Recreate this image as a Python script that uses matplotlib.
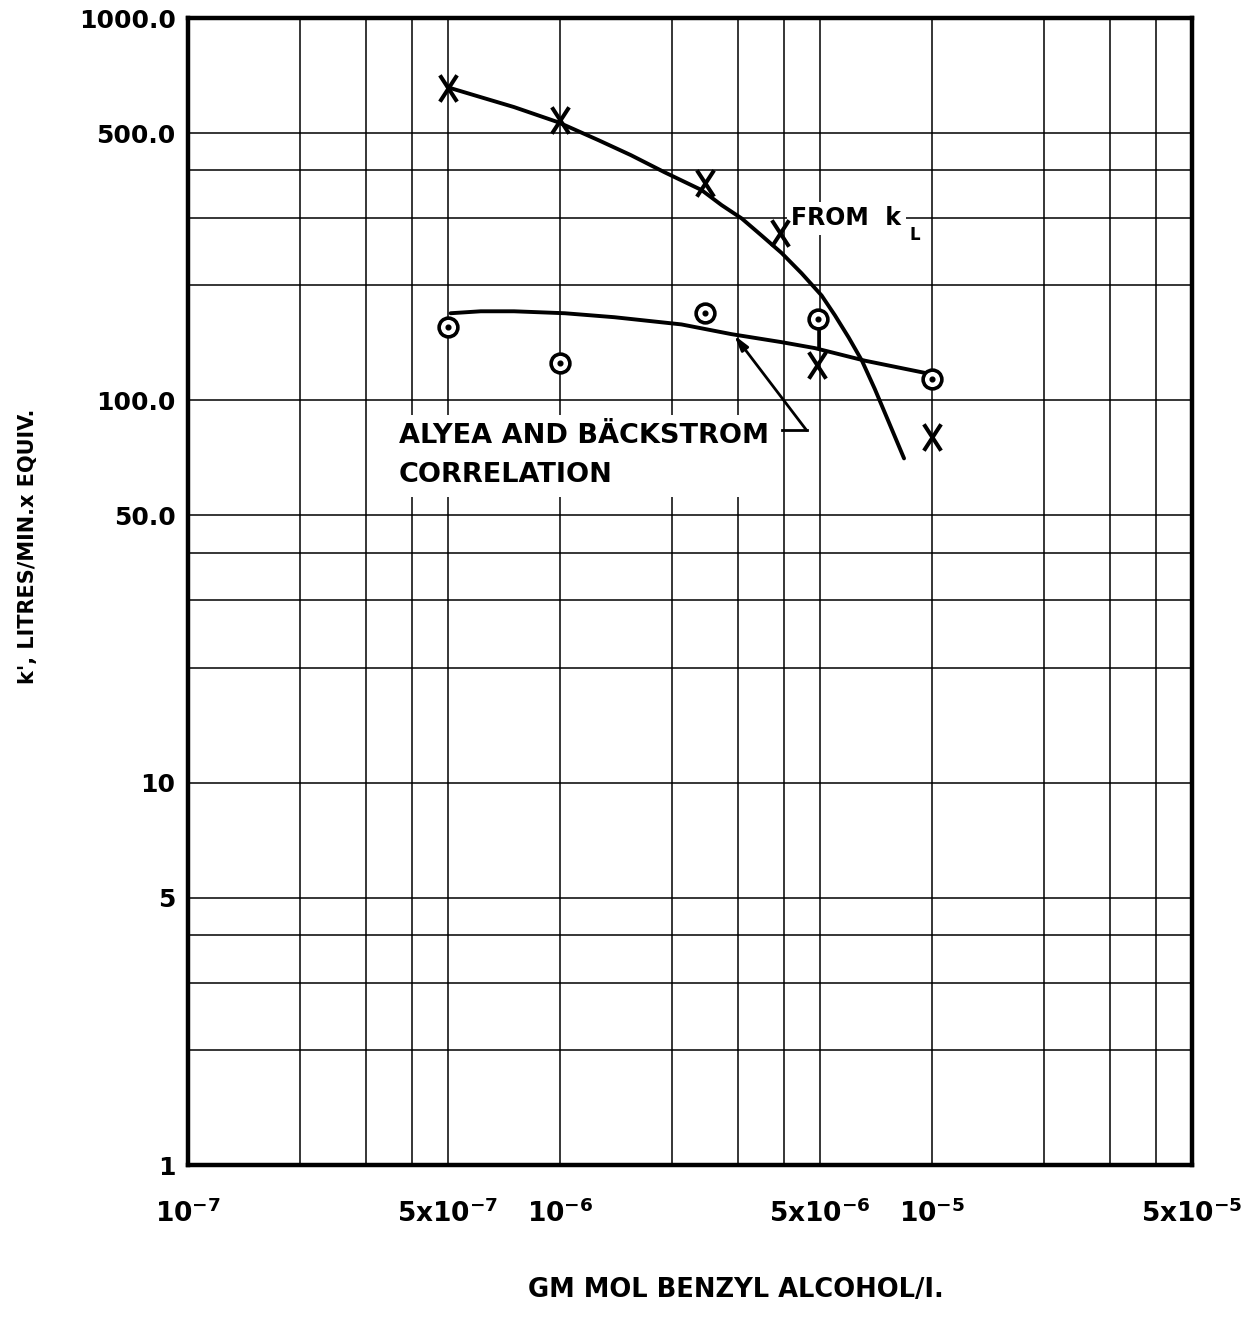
import numpy as np
import matplotlib
matplotlib.use("Agg")
from matplotlib import pyplot as plt
from matplotlib.path import Path

plt.rcParams['font.family'] = ['DejaVu Sans']
plt.rcParams['font.weight'] = 'bold'
plt.rcParams['mathtext.fontset'] = 'dejavusans'

# measured points, "x" symbols
x_cross = [5.0e-7, 1.0e-6, 2.45e-6, 3.9e-6, 4.9e-6, 1.0e-5]
k_cross = [655, 540, 370, 274, 124, 80]

# measured points, circled dots
x_circ = [5.0e-7, 1.0e-6, 2.45e-6, 4.95e-6, 1.0e-5]
k_circ = [156, 125, 169, 163, 114]

# curve drawn through the k_L points
x_kl = [4.99e-7, 6.12e-7, 7.52e-7, 9.88e-7, 1.27e-6, 1.55e-6, 1.91e-6,
        2.40e-6, 2.72e-6, 3.08e-6, 3.48e-6, 3.94e-6, 4.46e-6, 5.05e-6,
        5.48e-6, 5.97e-6, 6.48e-6, 7.02e-6, 7.66e-6, 8.41e-6]
k_kl = [659, 621, 585, 534, 479, 438, 395, 355, 324, 299, 270, 243, 215,
        188, 167, 146, 127, 107, 87.5, 70.5]

# Alyea and Backstrom correlation line
x_ab = [5.08e-7, 6.12e-7, 7.52e-7, 1.03e-6, 1.40e-6, 2.12e-6, 2.89e-6,
        3.94e-6, 4.84e-6, 6.60e-6, 9.57e-6]
k_ab = [169, 171, 171, 169, 165, 158, 149, 142, 137, 127, 118]

xticks = [1e-7, 5e-7, 1e-6, 5e-6, 1e-5, 5e-5]
xticklabels = [r'$\mathbf{10^{-7}}$', r'$\mathbf{5x10^{-7}}$', r'$\mathbf{10^{-6}}$',
               r'$\mathbf{5x10^{-6}}$', r'$\mathbf{10^{-5}}$', r'$\mathbf{5x10^{-5}}$']
yticks = [1, 5, 10, 50, 100, 500, 1000]
yticklabels = ['1', '5', '10', '50.0', '100.0', '500.0', '1000.0']

# grid positions: 1..5 of each decade
xgrid = [m * 10.0**e for e in (-7, -6, -5) for m in (1, 2, 3, 4, 5)]
ygrid = [m * 10.0**e for e in (0, 1, 2) for m in (1, 2, 3, 4, 5)] + [1000]

fig = plt.figure(figsize=(12.52, 13.17), dpi=100)
ax = fig.add_axes([0.1502, 0.1154, 0.8019, 0.8709])
ax.set_xscale('log')
ax.set_yscale('log')
ax.set_xlim(1e-7, 5e-5)
ax.set_ylim(1, 1000)

for g in xgrid:
    ax.axvline(g, color='black', lw=1.1, zorder=1)
for g in ygrid:
    ax.axhline(g, color='black', lw=1.1, zorder=1)

ax.set_xticks(xticks)
ax.set_xticklabels(xticklabels)
ax.set_yticks(yticks)
ax.set_yticklabels(yticklabels)
ax.minorticks_off()
ax.tick_params(axis='both', length=0)
ax.tick_params(axis='x', labelsize=19, pad=25)
ax.tick_params(axis='y', labelsize=18, pad=9)
for s in ax.spines.values():
    s.set_linewidth(3.2)
    s.set_zorder(5)

# tall "X" marker
xmark = Path([(-0.65, -1), (0.65, 1), (-0.65, 1), (0.65, -1)],
             [Path.MOVETO, Path.LINETO, Path.MOVETO, Path.LINETO])

ax.plot(x_kl, k_kl, color='black', lw=2.8, solid_capstyle='round',
        solid_joinstyle='round', zorder=3)
ax.plot(x_ab, k_ab, color='black', lw=2.8, solid_capstyle='round',
        solid_joinstyle='round', zorder=3)
# tie from the 5e-6 circle down to the correlation line
ax.plot([4.97e-6, 4.97e-6], [163, 137], color='black', lw=2.6, zorder=3)

ax.plot(x_cross, k_cross, linestyle='none', marker=xmark, ms=19,
        mew=2.9, color='black', zorder=4)
ax.plot(x_circ, k_circ, linestyle='none', marker='o', ms=13.5, mew=2.6,
        mfc='white', mec='black', zorder=4)
ax.plot(x_circ, k_circ, linestyle='none', marker='o', ms=3.4,
        color='black', zorder=4)

white = dict(facecolor='white', edgecolor='none', pad=3)
ax.text(4.19e-6, 287, 'FROM  k', fontsize=17, va='baseline', ha='left',
        bbox=white, zorder=2)
ax.text(8.72e-6, 262, 'L', fontsize=12, va='baseline', ha='left', zorder=2)

ax.text(3.68e-7, 87.1, 'ALYEA AND BÄCKSTROM\nCORRELATION', fontsize=19.5,
        va='top', ha='left', linespacing=1.65,
        bbox=dict(facecolor='white', edgecolor='none', pad=6), zorder=2)

# pointer from the label to the correlation line
ax.plot([3.94e-6, 4.6e-6], [83.5, 83.5], color='black', lw=2.0, zorder=3)
ax.annotate('', xy=(2.94e-6, 148), xytext=(4.6e-6, 83.5),
            arrowprops=dict(arrowstyle='-|>,head_length=0.9,head_width=0.25',
                            color='black', lw=2.0, shrinkA=0, shrinkB=0),
            zorder=3)

fig.text(0.022, 0.585, "k', LITRES/MIN.x EQUIV.", rotation=90, fontsize=15,
         ha='center', va='center')
fig.text(0.588, 0.0155, 'GM MOL BENZYL ALCOHOL/I.', fontsize=18.5,
         ha='center', va='baseline')

fig.savefig('out.png', dpi=100)
